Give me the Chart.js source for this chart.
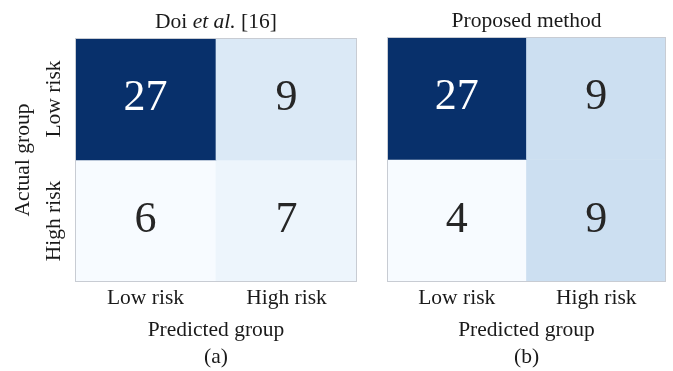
<!DOCTYPE html>
<html>
<head>
<meta charset="utf-8">
<script src="https://cdn.jsdelivr.net/npm/chart.js@4.4.1/dist/chart.umd.min.js"></script>
<style>
  html, body { margin: 0; padding: 0; background: #fff; }
  #wrap { position: relative; width: 673px; height: 371px; }
  #wrap canvas { position: absolute; left: 0; top: 0; }
</style>
</head>
<body>
<div id="wrap">
  <canvas id="doi" width="673" height="371"></canvas>
  <canvas id="ours" width="673" height="371"></canvas>
</div>
<script>
// confusion matrices, rows = actual group, columns = predicted group
const predictedGroups = ['Low risk', 'High risk'];
const actualGroups = ['Low risk', 'High risk'];
const doiLowRow = [27, 9];
const doiHighRow = [6, 7];
const proposedLowRow = [27, 9];
const proposedHighRow = [4, 9];

const FONT = "'Liberation Serif', 'Times New Roman', serif";
const INK = '#1a1a1a';

// matplotlib "Blues" colormap stops
const blues = ['#f7fbff', '#deebf7', '#c6dbef', '#9ecae1', '#6baed6', '#4292c6', '#2171b5', '#08519c', '#08306b'];
function hex(c) { return [1, 3, 5].map(i => parseInt(c.slice(i, i + 2), 16)); }
function bluesAt(t) {
  t = Math.max(0, Math.min(1, t)) * (blues.length - 1);
  const i = Math.min(Math.floor(t), blues.length - 2);
  const f = t - i;
  const a = hex(blues[i]), b = hex(blues[i + 1]);
  const c = a.map((v, k) => Math.round(v + (b[k] - v) * f));
  return 'rgb(' + c.join(',') + ')';
}

// value labels in the middle of each cell
const cellText = {
  id: 'cellText',
  afterDatasetsDraw(chart) {
    const ctx = chart.ctx;
    const {min, max} = chart.options.plugins.cellText;
    ctx.save();
    ctx.font = '44px ' + FONT;
    ctx.textAlign = 'center';
    ctx.textBaseline = 'alphabetic';
    chart.data.datasets.forEach((ds, di) => {
      chart.getDatasetMeta(di).data.forEach((bar, i) => {
        const v = ds.counts[i];
        const cy = (bar.y + bar.base) / 2;
        ctx.fillStyle = (v - min) / (max - min) > 0.6 ? '#ffffff' : '#262626';
        ctx.fillText(String(v), bar.x, cy + 11);
      });
    });
    ctx.restore();
  }
};

// thin frame around the heatmap
const frame = {
  id: 'frame',
  afterDraw(chart) {
    const a = chart.chartArea;
    const ctx = chart.ctx;
    ctx.save();
    ctx.strokeStyle = '#c8ccd3';
    ctx.lineWidth = 1;
    ctx.strokeRect(Math.round(a.left) + 0.5, Math.round(a.top) + 0.5,
      Math.round(a.right - a.left) - 1, Math.round(a.bottom - a.top) - 1);
    ctx.restore();
  }
};

// panel heading with mixed upright / italic parts
const heading = {
  id: 'heading',
  afterDraw(chart) {
    const parts = chart.options.plugins.heading.parts;
    const ctx = chart.ctx;
    const a = chart.chartArea;
    ctx.save();
    ctx.textBaseline = 'alphabetic';
    ctx.textAlign = 'left';
    ctx.fillStyle = INK;
    const fonts = parts.map(p => (p.italic ? 'italic ' : '') + '21.5px ' + FONT);
    let total = 0;
    parts.forEach((p, i) => { ctx.font = fonts[i]; total += ctx.measureText(p.text).width; });
    let x = (a.left + a.right) / 2 - total / 2;
    parts.forEach((p, i) => {
      ctx.font = fonts[i];
      ctx.fillText(p.text, x, a.top - 10.4);
      x += ctx.measureText(p.text).width;
    });
    ctx.restore();
  }
};

function makeMatrix(canvasId, lowRow, highRow, panel) {
  const all = lowRow.concat(highRow);
  const min = Math.min(...all), max = Math.max(...all);
  const shade = v => bluesAt((v - min) / (max - min));
  return new Chart(document.getElementById(canvasId), {
    type: 'bar',
    data: {
      labels: predictedGroups,
      datasets: [
        { label: actualGroups[0], counts: lowRow, data: lowRow.map(() => [0, 1]), backgroundColor: lowRow.map(shade) },
        { label: actualGroups[1], counts: highRow, data: highRow.map(() => [1, 2]), backgroundColor: highRow.map(shade) }
      ]
    },
    options: {
      responsive: false,
      animation: false,
      layout: { padding: panel.padding },
      datasets: { bar: { barPercentage: 1, categoryPercentage: 1, borderWidth: 0, grouped: false } },
      scales: {
        x: {
          type: 'category',
          position: 'bottom',
          grid: { display: false, drawTicks: false },
          border: { display: false },
          ticks: { color: INK, font: { family: FONT, size: 21.5 }, padding: 3 },
          title: {
            display: true,
            text: ['Predicted group', panel.tag],
            color: INK,
            font: { family: FONT, size: 21.5, lineHeight: 1.256 },
            padding: { top: 0, bottom: 0 }
          },
          afterFit: s => { s.height = 89; }
        },
        y: {
          type: 'linear',
          reverse: true,
          min: 0,
          max: 2,
          display: panel.showY,
          grid: { display: false, drawTicks: false },
          border: { display: false },
          afterBuildTicks: s => { s.ticks = actualGroups.map((_, i) => ({ value: i + 0.5 })); },
          ticks: {
            color: INK,
            font: { family: FONT, size: 21.5 },
            minRotation: 90,
            maxRotation: 90,
            crossAlign: 'center',
            padding: -19.5,
            callback: (v, i) => actualGroups[i]
          },
          title: {
            display: true,
            text: 'Actual group',
            color: INK,
            font: { family: FONT, size: 21.5 },
            padding: { top: 10.5, bottom: 0 }
          },
          afterFit: s => { s.width = panel.showY ? 75 : 0; }
        }
      },
      plugins: {
        legend: { display: false },
        tooltip: { enabled: false },
        cellText: { min, max },
        heading: { parts: panel.heading }
      }
    },
    plugins: [cellText, frame, heading]
  });
}

makeMatrix('doi', doiLowRow, doiHighRow, {
  tag: '(a)',
  showY: true,
  padding: { left: 0, top: 38, right: 316, bottom: 0 },
  heading: [{ text: 'Doi ' }, { text: 'et al.', italic: true }, { text: ' [16]' }]
});

makeMatrix('ours', proposedLowRow, proposedHighRow, {
  tag: '(b)',
  showY: false,
  padding: { left: 387, top: 37, right: 7, bottom: 0 },
  heading: [{ text: 'Proposed method' }]
});
</script>
</body>
</html>
